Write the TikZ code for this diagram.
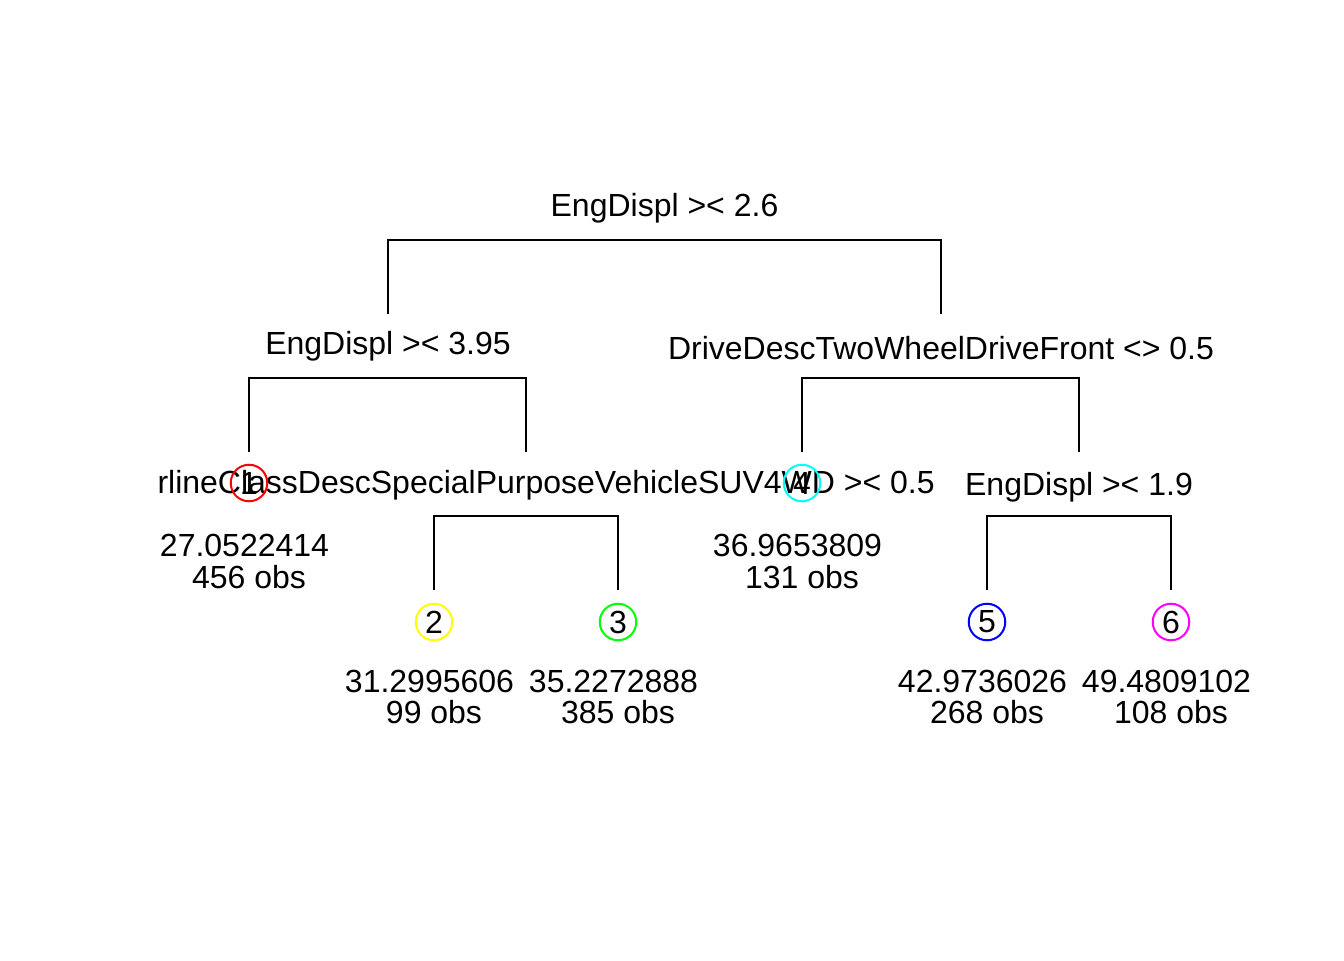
\documentclass[tikz,border=0pt]{standalone}
\usepackage{fontspec}
\setmainfont{Liberation Sans}
\definecolor{ryellow}{RGB}{255,255,0}
\definecolor{rgreen}{RGB}{0,255,0}
\definecolor{rcyan}{RGB}{0,255,255}
\definecolor{rmagenta}{RGB}{255,0,255}
\definecolor{rred}{RGB}{255,0,0}
\definecolor{rblue}{RGB}{0,0,255}
\begin{document}
\begin{tikzpicture}[x=0.375pt,y=-0.375pt,
  txt/.style={inner sep=0pt,anchor=base,font=\fontsize{12}{12}\selectfont},
  edge/.style={line width=0.75pt,black},
  leaf/.style={circle,draw=#1,line width=0.75pt,minimum size=13.7pt,inner sep=0pt,font=\fontsize{12}{12}\selectfont}]
\useasboundingbox[fill=white] (0,0) rectangle (1344,960);
% split labels
\node[txt] (s0) at (664.5,216) {EngDispl >< 2.6};
\node[txt] (s1) at (388,354.5) {EngDispl >< 3.95};
\node[txt] (s2) at (941,359) {DriveDescTwoWheelDriveFront <> 0.5};
\node[txt,anchor=base west] (s3) at (157,493.5) {rlineClassDescSpecialPurposeVehicleSUV4WD >< 0.5};
\node[txt] (s4) at (1079,495) {EngDispl >< 1.9};
% tree coordinates
\coordinate (b0) at (664.5,240);
\coordinate (t1) at (388,314);
\coordinate (t2) at (941,314);
\coordinate (b1) at (388,378);
\coordinate (t11) at (249,452);
\coordinate (t12) at (526,452);
\coordinate (b2) at (941,378);
\coordinate (t21) at (802,452);
\coordinate (t22) at (1079,452);
\coordinate (b3) at (526,516);
\coordinate (t31) at (434,590);
\coordinate (t32) at (618,590);
\coordinate (b4) at (1079,516);
\coordinate (t41) at (987,590);
\coordinate (t42) at (1171,590);
\draw[edge] (t1) |- (b0) -| (t2);
\draw[edge] (t11) |- (b1) -| (t12);
\draw[edge] (t21) |- (b2) -| (t22);
\draw[edge] (t31) |- (b3) -| (t32);
\draw[edge] (t41) |- (b4) -| (t42);
% leaves
\node[leaf=rred] (l1) at (249,483) {1};
\node[leaf=rcyan] (l4) at (802,483) {4};
\node[leaf=ryellow] (l2) at (434,622) {2};
\node[leaf=rgreen] (l3) at (618,622) {3};
\node[leaf=rblue] (l5) at (987,622) {5};
\node[leaf=rmagenta] (l6) at (1171,622) {6};
% leaf values
\node[txt] (v1) at (244.5,556.5) {27.0522414};
\node[txt] (o1) at (249,588) {456 obs};
\node[txt] (v4) at (797.5,556.5) {36.9653809};
\node[txt] (o4) at (802,588) {131 obs};
\node[txt] (v2) at (429.5,692) {31.2995606};
\node[txt] (o2) at (434,723.5) {99 obs};
\node[txt] (v3) at (613.5,692) {35.2272888};
\node[txt] (o3) at (618,723.5) {385 obs};
\node[txt] (v5) at (982.5,692) {42.9736026};
\node[txt] (o5) at (987,723.5) {268 obs};
\node[txt] (v6) at (1166.5,692) {49.4809102};
\node[txt] (o6) at (1171,723.5) {108 obs};
\end{tikzpicture}
\end{document}
